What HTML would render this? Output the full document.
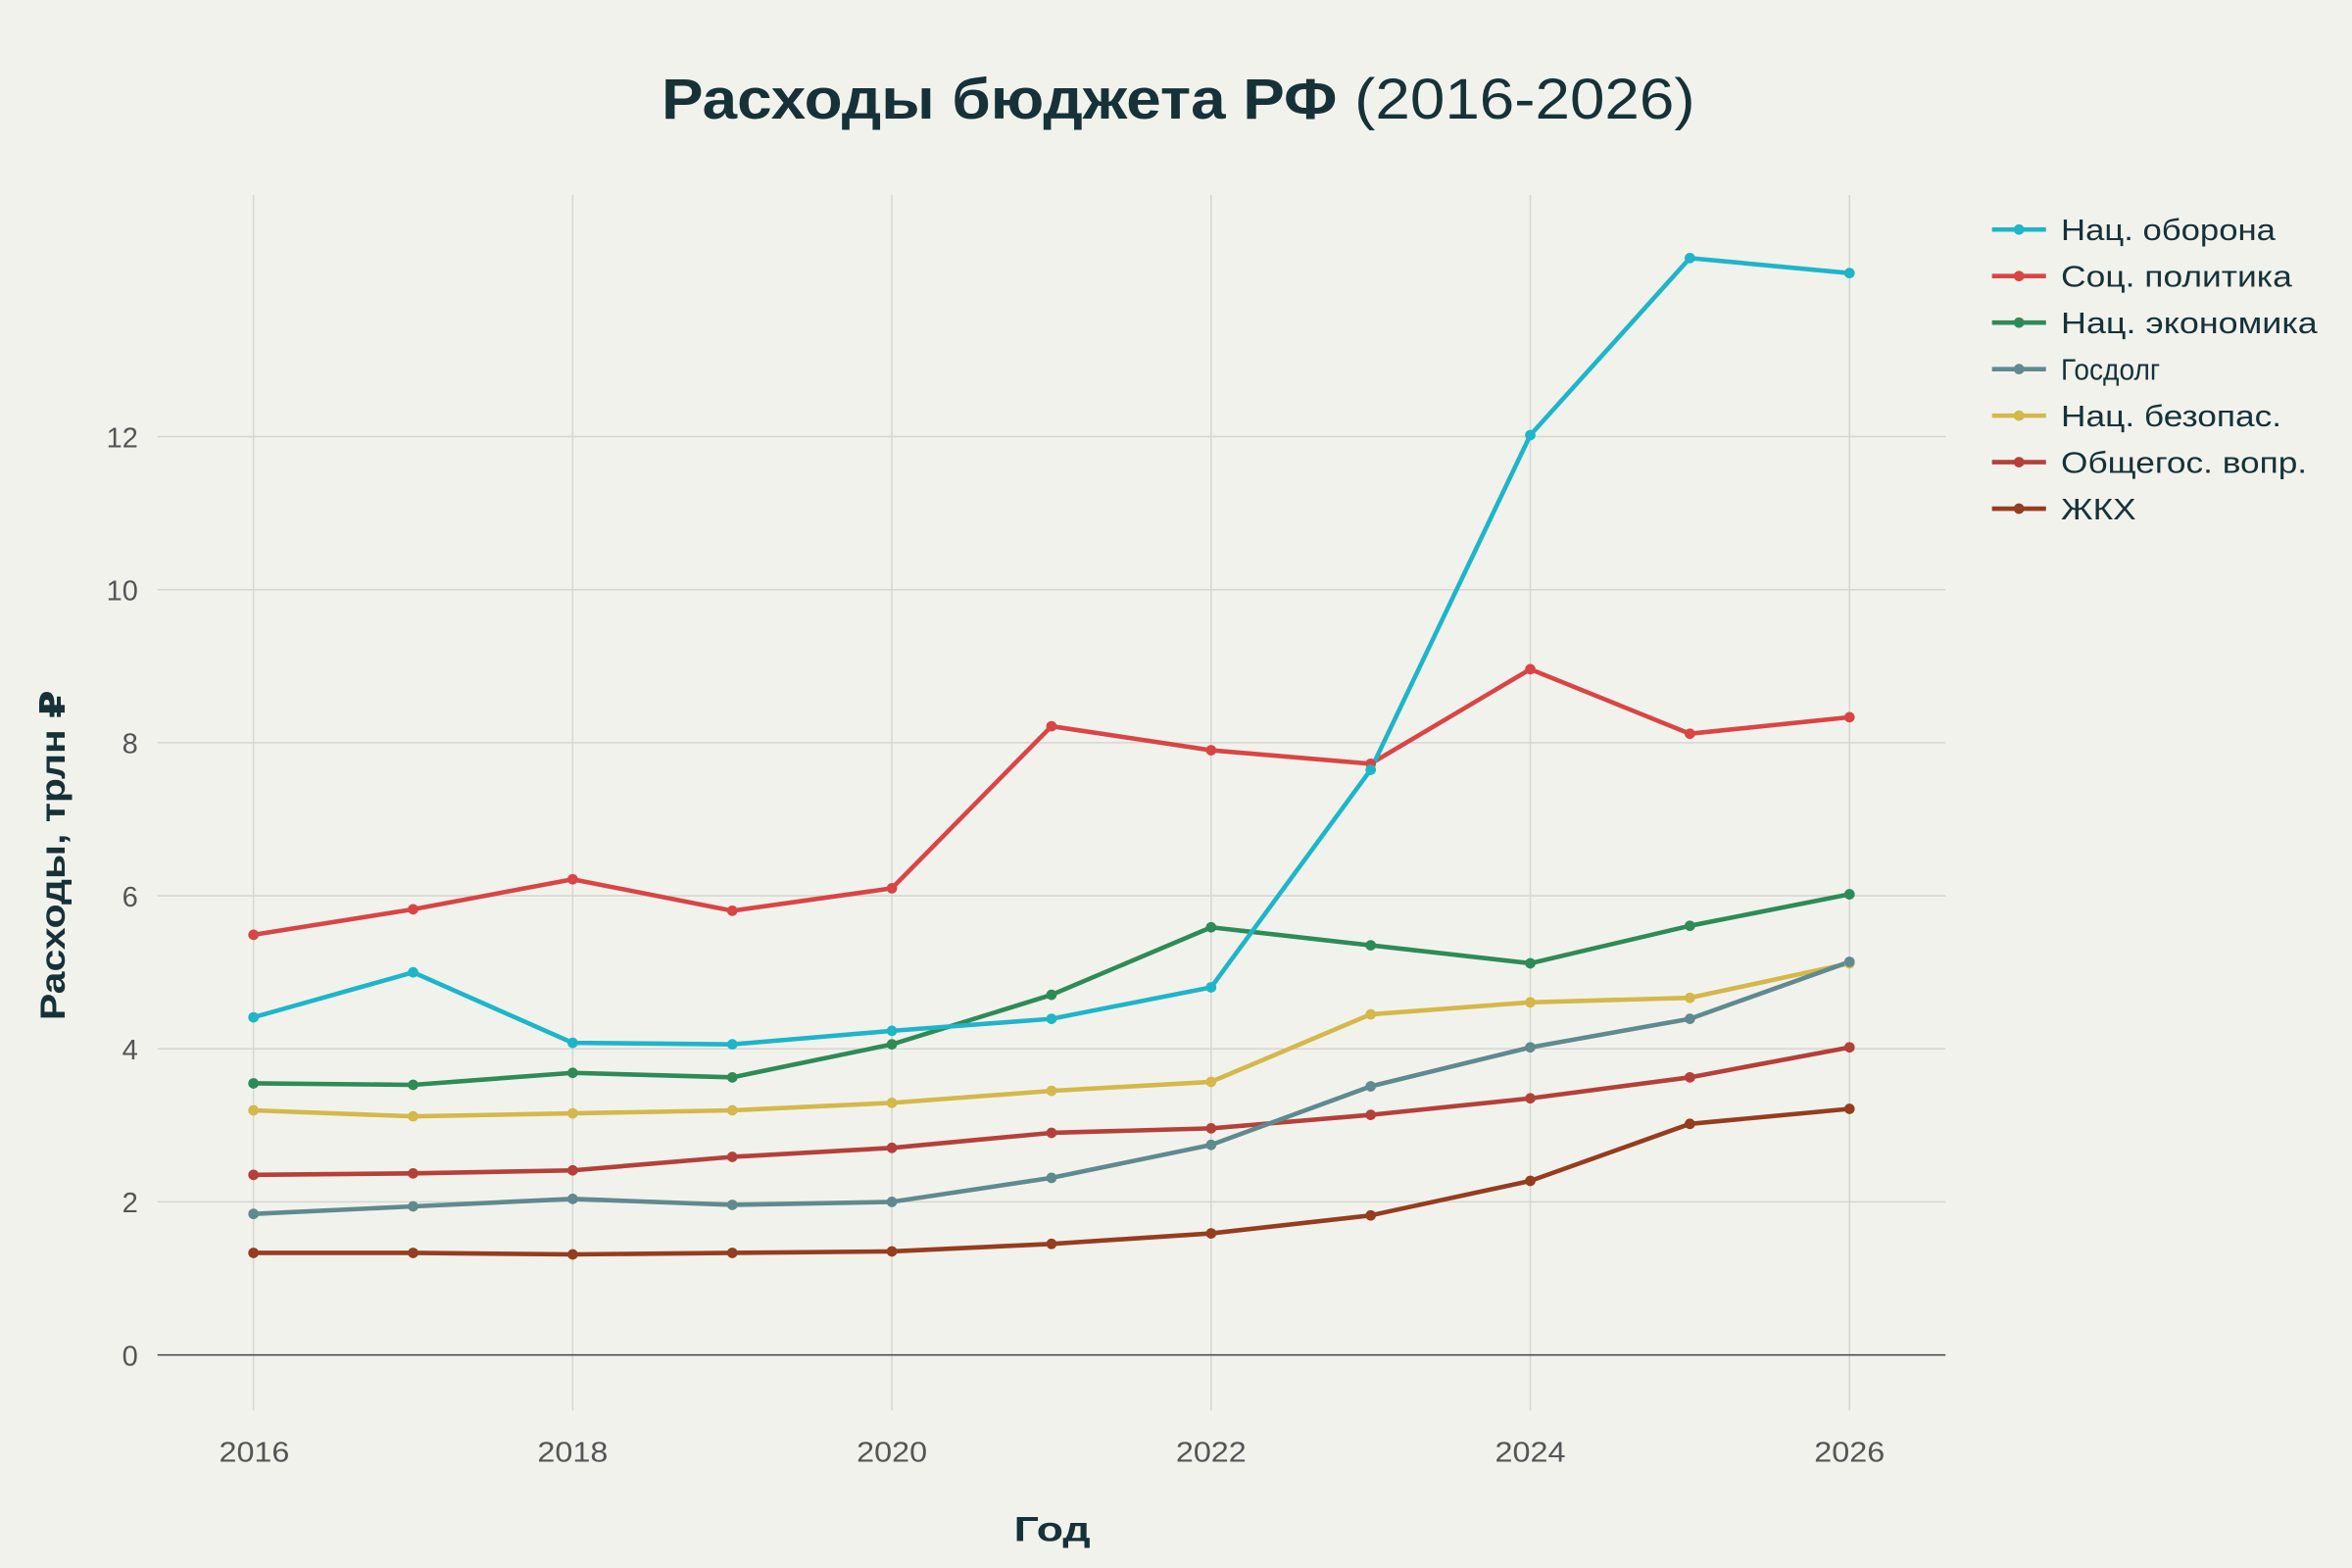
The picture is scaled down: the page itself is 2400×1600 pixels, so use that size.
<!DOCTYPE html>
<html><head><meta charset="utf-8"><style>
html,body{margin:0;padding:0;background:#f2f2ed;}
svg{display:block;font-family:"Liberation Sans","DejaVu Sans",sans-serif;}
</style></head><body>
<svg width="2400" height="1600" viewBox="0 0 1568 1045" preserveAspectRatio="none">
<rect width="1568" height="1045" fill="#f2f2ed"/>
<text x="441" y="79" font-size="38" fill="#163238" textLength="689" lengthAdjust="spacingAndGlyphs"><tspan font-weight="bold">Расходы бюджета РФ</tspan> (2016-2026)</text>
<g stroke="#d6d6d2" stroke-width="1">
<line x1="169" y1="130" x2="169" y2="940"/><line x1="381.8" y1="130" x2="381.8" y2="940"/><line x1="594.6" y1="130" x2="594.6" y2="940"/><line x1="807.4" y1="130" x2="807.4" y2="940"/><line x1="1020.2" y1="130" x2="1020.2" y2="940"/><line x1="1233" y1="130" x2="1233" y2="940"/>
<line x1="105" y1="801" x2="1297" y2="801"/><line x1="105" y1="699" x2="1297" y2="699"/><line x1="105" y1="597" x2="1297" y2="597"/><line x1="105" y1="495" x2="1297" y2="495"/><line x1="105" y1="393" x2="1297" y2="393"/><line x1="105" y1="291" x2="1297" y2="291"/>
</g>
<line x1="105" y1="903" x2="1297" y2="903" stroke="#444" stroke-width="1"/>
<g font-size="19" fill="#555" text-anchor="end">
<text x="92" y="910">0</text><text x="92" y="808">2</text><text x="92" y="706">4</text><text x="92" y="604">6</text><text x="92" y="502">8</text><text x="92" y="400" textLength="21" lengthAdjust="spacingAndGlyphs">10</text><text x="92" y="298" textLength="21" lengthAdjust="spacingAndGlyphs">12</text>
</g>
<g font-size="19" fill="#555">
<text x="146" y="974" textLength="47" lengthAdjust="spacingAndGlyphs">2016</text><text x="358.3" y="974" textLength="47" lengthAdjust="spacingAndGlyphs">2018</text><text x="571.1" y="974" textLength="47" lengthAdjust="spacingAndGlyphs">2020</text><text x="783.9" y="974" textLength="47" lengthAdjust="spacingAndGlyphs">2022</text><text x="996.7" y="974" textLength="47" lengthAdjust="spacingAndGlyphs">2024</text><text x="1209.5" y="974" textLength="47" lengthAdjust="spacingAndGlyphs">2026</text>
</g>
<text x="676" y="1027" font-size="23" font-weight="bold" fill="#163238" textLength="51" lengthAdjust="spacingAndGlyphs">Год</text>
<text transform="translate(43,680) rotate(-90)" font-size="23" font-weight="bold" fill="#163238" textLength="220" lengthAdjust="spacingAndGlyphs">Расходы, трлн ₽</text>
<g fill="none" stroke-width="3" stroke-linejoin="round">
<polyline stroke="#953d1e" points="169,835 275.4,835 381.8,836 488.2,835 594.6,834 701,829 807.4,822 913.8,810 1020.2,787 1126.6,749 1233,739"/>
<polyline stroke="#b5403a" points="169,783 275.4,782 381.8,780 488.2,771 594.6,765 701,755 807.4,752 913.8,743 1020.2,732 1126.6,718 1233,698"/>
<polyline stroke="#d4b84a" points="169,740 275.4,744 381.8,742 488.2,740 594.6,735 701,727 807.4,721 913.8,676 1020.2,668 1126.6,665 1233,642"/>
<polyline stroke="#5f8a8f" points="169,809 275.4,804 381.8,799 488.2,803 594.6,801 701,785 807.4,763 913.8,724 1020.2,698 1126.6,679 1233,641"/>
<polyline stroke="#2e8b57" points="169,722 275.4,723 381.8,715 488.2,718 594.6,696 701,663 807.4,618 913.8,630 1020.2,642 1126.6,617 1233,596"/>
<polyline stroke="#d94545" points="169,623 275.4,606 381.8,586 488.2,607 594.6,592 701,484 807.4,500 913.8,509 1020.2,446 1126.6,489 1233,478"/>
<polyline stroke="#1fb5c9" points="169,678 275.4,648 381.8,695 488.2,696 594.6,687 701,679 807.4,658 913.8,513 1020.2,290 1126.6,172 1233,182"/>
</g>
<g>
<g fill="#953d1e"><circle cx="169" cy="835" r="3.5"/><circle cx="275.4" cy="835" r="3.5"/><circle cx="381.8" cy="836" r="3.5"/><circle cx="488.2" cy="835" r="3.5"/><circle cx="594.6" cy="834" r="3.5"/><circle cx="701" cy="829" r="3.5"/><circle cx="807.4" cy="822" r="3.5"/><circle cx="913.8" cy="810" r="3.5"/><circle cx="1020.2" cy="787" r="3.5"/><circle cx="1126.6" cy="749" r="3.5"/><circle cx="1233" cy="739" r="3.5"/></g>
<g fill="#b5403a"><circle cx="169" cy="783" r="3.5"/><circle cx="275.4" cy="782" r="3.5"/><circle cx="381.8" cy="780" r="3.5"/><circle cx="488.2" cy="771" r="3.5"/><circle cx="594.6" cy="765" r="3.5"/><circle cx="701" cy="755" r="3.5"/><circle cx="807.4" cy="752" r="3.5"/><circle cx="913.8" cy="743" r="3.5"/><circle cx="1020.2" cy="732" r="3.5"/><circle cx="1126.6" cy="718" r="3.5"/><circle cx="1233" cy="698" r="3.5"/></g>
<g fill="#d4b84a"><circle cx="169" cy="740" r="3.5"/><circle cx="275.4" cy="744" r="3.5"/><circle cx="381.8" cy="742" r="3.5"/><circle cx="488.2" cy="740" r="3.5"/><circle cx="594.6" cy="735" r="3.5"/><circle cx="701" cy="727" r="3.5"/><circle cx="807.4" cy="721" r="3.5"/><circle cx="913.8" cy="676" r="3.5"/><circle cx="1020.2" cy="668" r="3.5"/><circle cx="1126.6" cy="665" r="3.5"/><circle cx="1233" cy="642" r="3.5"/></g>
<g fill="#5f8a8f"><circle cx="169" cy="809" r="3.5"/><circle cx="275.4" cy="804" r="3.5"/><circle cx="381.8" cy="799" r="3.5"/><circle cx="488.2" cy="803" r="3.5"/><circle cx="594.6" cy="801" r="3.5"/><circle cx="701" cy="785" r="3.5"/><circle cx="807.4" cy="763" r="3.5"/><circle cx="913.8" cy="724" r="3.5"/><circle cx="1020.2" cy="698" r="3.5"/><circle cx="1126.6" cy="679" r="3.5"/><circle cx="1233" cy="641" r="3.5"/></g>
<g fill="#2e8b57"><circle cx="169" cy="722" r="3.5"/><circle cx="275.4" cy="723" r="3.5"/><circle cx="381.8" cy="715" r="3.5"/><circle cx="488.2" cy="718" r="3.5"/><circle cx="594.6" cy="696" r="3.5"/><circle cx="701" cy="663" r="3.5"/><circle cx="807.4" cy="618" r="3.5"/><circle cx="913.8" cy="630" r="3.5"/><circle cx="1020.2" cy="642" r="3.5"/><circle cx="1126.6" cy="617" r="3.5"/><circle cx="1233" cy="596" r="3.5"/></g>
<g fill="#d94545"><circle cx="169" cy="623" r="3.5"/><circle cx="275.4" cy="606" r="3.5"/><circle cx="381.8" cy="586" r="3.5"/><circle cx="488.2" cy="607" r="3.5"/><circle cx="594.6" cy="592" r="3.5"/><circle cx="701" cy="484" r="3.5"/><circle cx="807.4" cy="500" r="3.5"/><circle cx="913.8" cy="509" r="3.5"/><circle cx="1020.2" cy="446" r="3.5"/><circle cx="1126.6" cy="489" r="3.5"/><circle cx="1233" cy="478" r="3.5"/></g>
<g fill="#1fb5c9"><circle cx="169" cy="678" r="3.5"/><circle cx="275.4" cy="648" r="3.5"/><circle cx="381.8" cy="695" r="3.5"/><circle cx="488.2" cy="696" r="3.5"/><circle cx="594.6" cy="687" r="3.5"/><circle cx="701" cy="679" r="3.5"/><circle cx="807.4" cy="658" r="3.5"/><circle cx="913.8" cy="513" r="3.5"/><circle cx="1020.2" cy="290" r="3.5"/><circle cx="1126.6" cy="172" r="3.5"/><circle cx="1233" cy="182" r="3.5"/></g>
</g>
<g font-size="20" fill="#163238" stroke-width="3">
<line x1="1328" y1="153" x2="1364" y2="153" stroke="#1fb5c9"/><circle cx="1346" cy="153" r="3.5" fill="#1fb5c9"/><text x="1374" y="160" textLength="143" lengthAdjust="spacingAndGlyphs">Нац. оборона</text>
<line x1="1328" y1="184" x2="1364" y2="184" stroke="#d94545"/><circle cx="1346" cy="184" r="3.5" fill="#d94545"/><text x="1374" y="191" textLength="154" lengthAdjust="spacingAndGlyphs">Соц. политика</text>
<line x1="1328" y1="215" x2="1364" y2="215" stroke="#2e8b57"/><circle cx="1346" cy="215" r="3.5" fill="#2e8b57"/><text x="1374" y="222" textLength="171" lengthAdjust="spacingAndGlyphs">Нац. экономика</text>
<line x1="1328" y1="246" x2="1364" y2="246" stroke="#5f8a8f"/><circle cx="1346" cy="246" r="3.5" fill="#5f8a8f"/><text x="1374" y="253" textLength="66" lengthAdjust="spacingAndGlyphs">Госдолг</text>
<line x1="1328" y1="277" x2="1364" y2="277" stroke="#d4b84a"/><circle cx="1346" cy="277" r="3.5" fill="#d4b84a"/><text x="1374" y="284" textLength="147" lengthAdjust="spacingAndGlyphs">Нац. безопас.</text>
<line x1="1328" y1="308" x2="1364" y2="308" stroke="#b5403a"/><circle cx="1346" cy="308" r="3.5" fill="#b5403a"/><text x="1374" y="315" textLength="164" lengthAdjust="spacingAndGlyphs">Общегос. вопр.</text>
<line x1="1328" y1="339" x2="1364" y2="339" stroke="#953d1e"/><circle cx="1346" cy="339" r="3.5" fill="#953d1e"/><text x="1374" y="346" textLength="50" lengthAdjust="spacingAndGlyphs">ЖКХ</text>
</g>
</svg>
</body></html>
